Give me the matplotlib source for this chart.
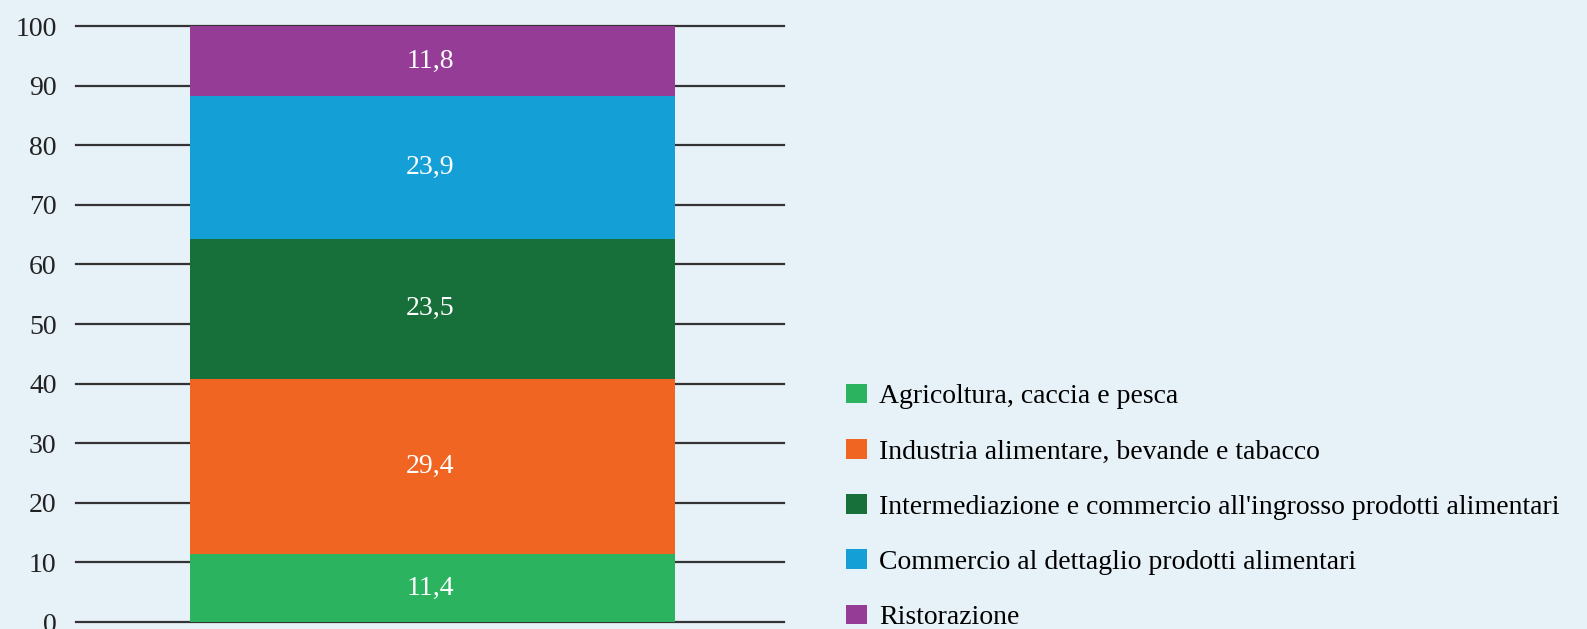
import matplotlib
matplotlib.use('Agg')
from matplotlib import pyplot as plt

# Data
sectors = [
    'Agricoltura, caccia e pesca',
    'Industria alimentare, bevande e tabacco',
    "Intermediazione e commercio all'ingrosso prodotti alimentari",
    'Commercio al dettaglio prodotti alimentari',
    'Ristorazione',
]
shares = [11.4, 29.4, 23.5, 23.9, 11.8]
colors = ['#2bb35f', '#f06522', '#17703a', '#149fd6', '#943c96']
yticks = [0, 10, 20, 30, 40, 50, 60, 70, 80, 90, 100]

bg = '#e6f1f8'
plt.rcParams['font.family'] = ['Liberation Serif', 'DejaVu Serif']

fig = plt.figure(figsize=(15.87, 6.29), dpi=100, facecolor=bg)
ax = fig.add_axes([76 / 1587, 1 - 622 / 629, 708 / 1587, 596 / 629])
ax.set_facecolor(bg)

bottom = 0
for name, val, col in zip(sectors, shares, colors):
    ax.bar(0.003, val, width=0.685, bottom=bottom, color=col, label=name, zorder=3)
    ax.text(0, bottom + val / 2, '{:.1f}'.format(val).replace('.', ','),
            ha='center', va='center', color='white', fontsize=20, zorder=4)
    bottom += val

ax.set_xlim(-0.5, 0.5)
ax.set_ylim(0, 100)
ax.set_yticks(yticks)
ax.set_xticks([])
for y in yticks:
    ax.axhline(y, color='#333333', linewidth=1.6, zorder=1, clip_on=False)
for s in ax.spines.values():
    s.set_visible(False)
ax.tick_params(axis='y', length=0, pad=14, labelsize=20, labelcolor='#222222')

fig.legend(loc='center left', bbox_to_anchor=(846 / 1587, 1 - 507 / 629),
           frameon=False, fontsize=20, handlelength=0.75, handleheight=0.7,
           handletextpad=0.45, labelspacing=1.07, borderpad=0, borderaxespad=0)

fig.savefig('out.png', dpi=100, facecolor=bg)
